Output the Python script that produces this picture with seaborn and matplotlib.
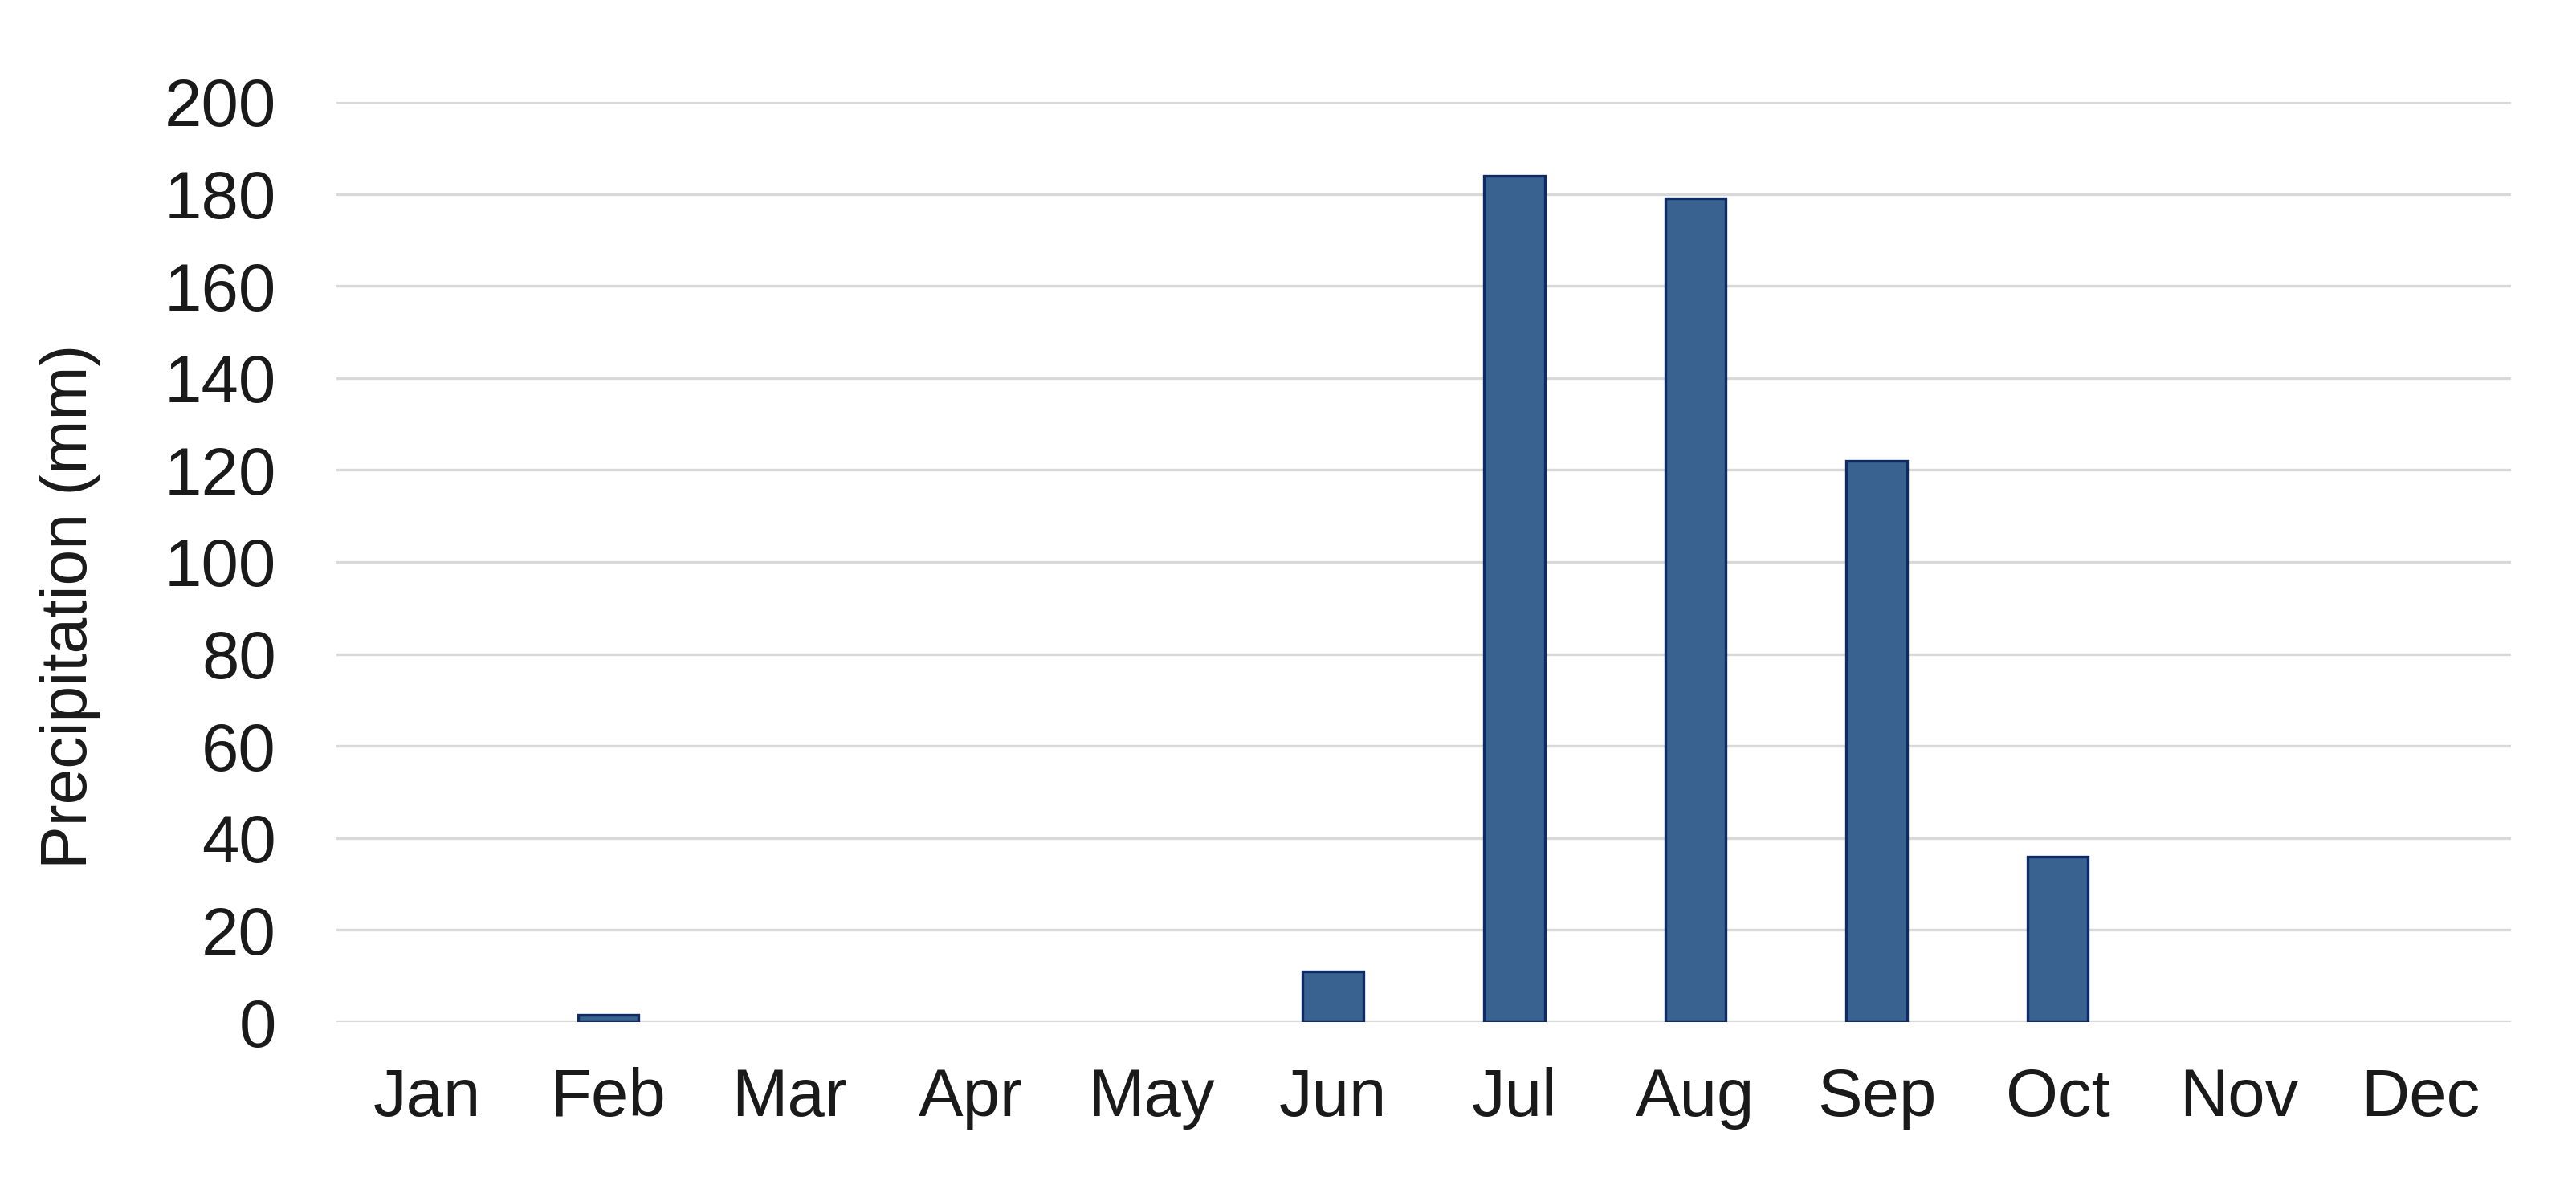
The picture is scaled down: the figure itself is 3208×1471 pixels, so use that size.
import pandas as pd
import matplotlib
matplotlib.use("Agg")
import matplotlib.pyplot as plt
import seaborn as sns

# %% data
months = ["Jan", "Feb", "Mar", "Apr", "May", "Jun",
          "Jul", "Aug", "Sep", "Oct", "Nov", "Dec"]
precip = [0, 1.5, 0, 0, 0, 11, 184, 179, 122, 36, 0, 0]
y_ticks = [0, 20, 40, 60, 80, 100, 120, 140, 160, 180, 200]

df = pd.DataFrame({"Month": months, "Precipitation": precip})

# %% style
sns.set_theme(style="white")
plt.rcParams["font.family"] = ["Liberation Sans", "DejaVu Sans"]

fig = plt.figure(figsize=(16.04, 7.355), dpi=200)
ax = fig.add_axes([0.1306, 0.1346, 0.8441, 0.7791])

sns.barplot(data=df, x="Month", y="Precipitation", ax=ax,
            color="#3A6291", edgecolor="#0E2B66", linewidth=1.2,
            width=0.335, saturation=1, zorder=3)

# empty months show nothing, not a flat outline
for p in ax.patches:
    if p.get_height() == 0:
        p.set_linewidth(0)

ax.set_ylim(0, 200)
ax.set_xlim(-0.5, len(months) - 0.5)
ax.set_yticks(y_ticks)
ax.yaxis.grid(True, color="#D9D9D9", linewidth=1.2, zorder=0)
ax.set_axisbelow(True)
for s in ax.spines.values():
    s.set_visible(False)

ax.tick_params(axis="y", labelsize=30, pad=27, length=0, colors="#1a1a1a")
ax.tick_params(axis="x", labelsize=30, pad=20, length=0, colors="#1a1a1a")
ax.set_xlabel("")
ax.set_ylabel("Precipitation (mm)", fontsize=29, color="#1a1a1a")
ax.yaxis.set_label_coords(-0.1086, 0.452)

fig.savefig("out.png", dpi=200, facecolor="white")
